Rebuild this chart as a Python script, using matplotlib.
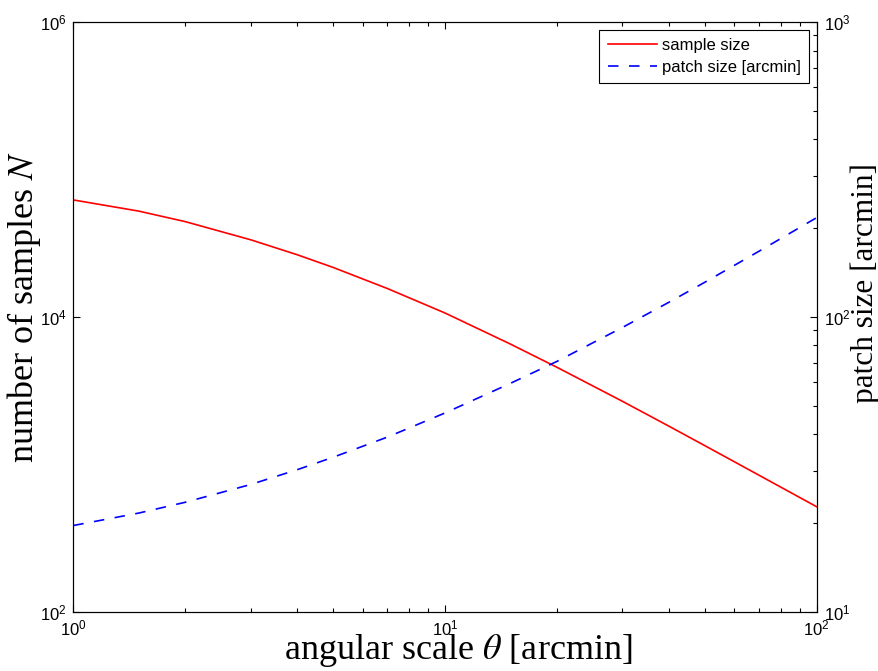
import matplotlib
matplotlib.use("Agg")
import matplotlib.pyplot as plt
from matplotlib.ticker import LogLocator, NullLocator, NullFormatter

plt.rcParams["mathtext.fontset"] = "stix"

# angular scale theta [arcmin]
theta = [1, 1.5, 2, 3, 4, 5, 7, 10, 15, 20, 30, 40, 50, 70, 100]
# number of samples N (left axis)
samples = [62090, 52150, 44260, 33330, 26400, 21640, 15560, 10620,
           6535, 4550, 2676, 1815, 1338, 842, 515]
# patch size [arcmin] (right axis)
patch = [19.6, 21.6, 23.5, 27.0, 30.3, 33.4, 39.1, 47.2,
         59.5, 70.6, 92, 112, 131, 167, 217]

sans = "Liberation Sans"
serif = "Liberation Serif"

fig = plt.figure(figsize=(8.79, 6.71), dpi=100)
ax = fig.add_axes([0.0834, 0.0884, 0.8457, 0.8788])
ax2 = ax.twinx()

l1, = ax.plot(theta, samples, color="#ff0000", lw=1.2, label="sample size")
l2, = ax2.plot(theta, patch, color="#0000ff", lw=1.2, ls=(0, (6.3, 6.3)),
               label="patch size [arcmin]")

ax.set_xscale("log")
ax.set_yscale("log")
ax2.set_yscale("log")
ax.set_xlim(1, 100)
ax.set_ylim(1e2, 1e6)
ax2.set_ylim(10, 1000)

ax.set_yticks([1e2, 1e4, 1e6])
ax.yaxis.set_minor_locator(NullLocator())
ax.xaxis.set_minor_locator(LogLocator(base=10, subs=range(2, 10)))
ax.xaxis.set_minor_formatter(NullFormatter())
ax2.yaxis.set_minor_locator(LogLocator(base=10, subs=range(2, 10)))
ax2.yaxis.set_minor_formatter(NullFormatter())

for a in (ax, ax2):
    for s in a.spines.values():
        s.set_linewidth(0.8)
ax.tick_params(which="both", direction="in", top=True, right=False, width=0.8)
ax.tick_params(which="major", length=5, pad=5)
ax.tick_params(which="minor", length=3)
ax2.tick_params(which="both", direction="in", width=0.8)
ax2.tick_params(which="major", length=5, pad=5)
ax2.tick_params(which="minor", length=3)

for lab in ax.get_xticklabels() + ax.get_yticklabels() + ax2.get_yticklabels():
    lab.set_fontfamily(sans)
    lab.set_fontsize(12)

ax.set_xlabel(r"angular scale $\theta$ [arcmin]", fontfamily=serif,
              fontsize=26)
ax.xaxis.set_label_coords(0.5175, -0.035)
ax.set_ylabel(r"number of samples $N$", fontfamily=serif, fontsize=26)
ax.yaxis.set_label_coords(-0.041, 0.517)
ax2.set_ylabel("patch size [arcmin]", fontfamily=serif, fontsize=22.5)
ax2.yaxis.set_label_coords(1.045, 0.557)

leg = ax2.legend([l1, l2], [l1.get_label(), l2.get_label()],
                 loc="upper right", fancybox=False, edgecolor="black",
                 framealpha=1, prop={"family": sans, "size": 12},
                 handlelength=2.95, handletextpad=0.3, labelspacing=0.4,
                 borderpad=0.5, borderaxespad=0.45)
leg.get_frame().set_linewidth(0.8)

fig.savefig("out.png", dpi=100)
